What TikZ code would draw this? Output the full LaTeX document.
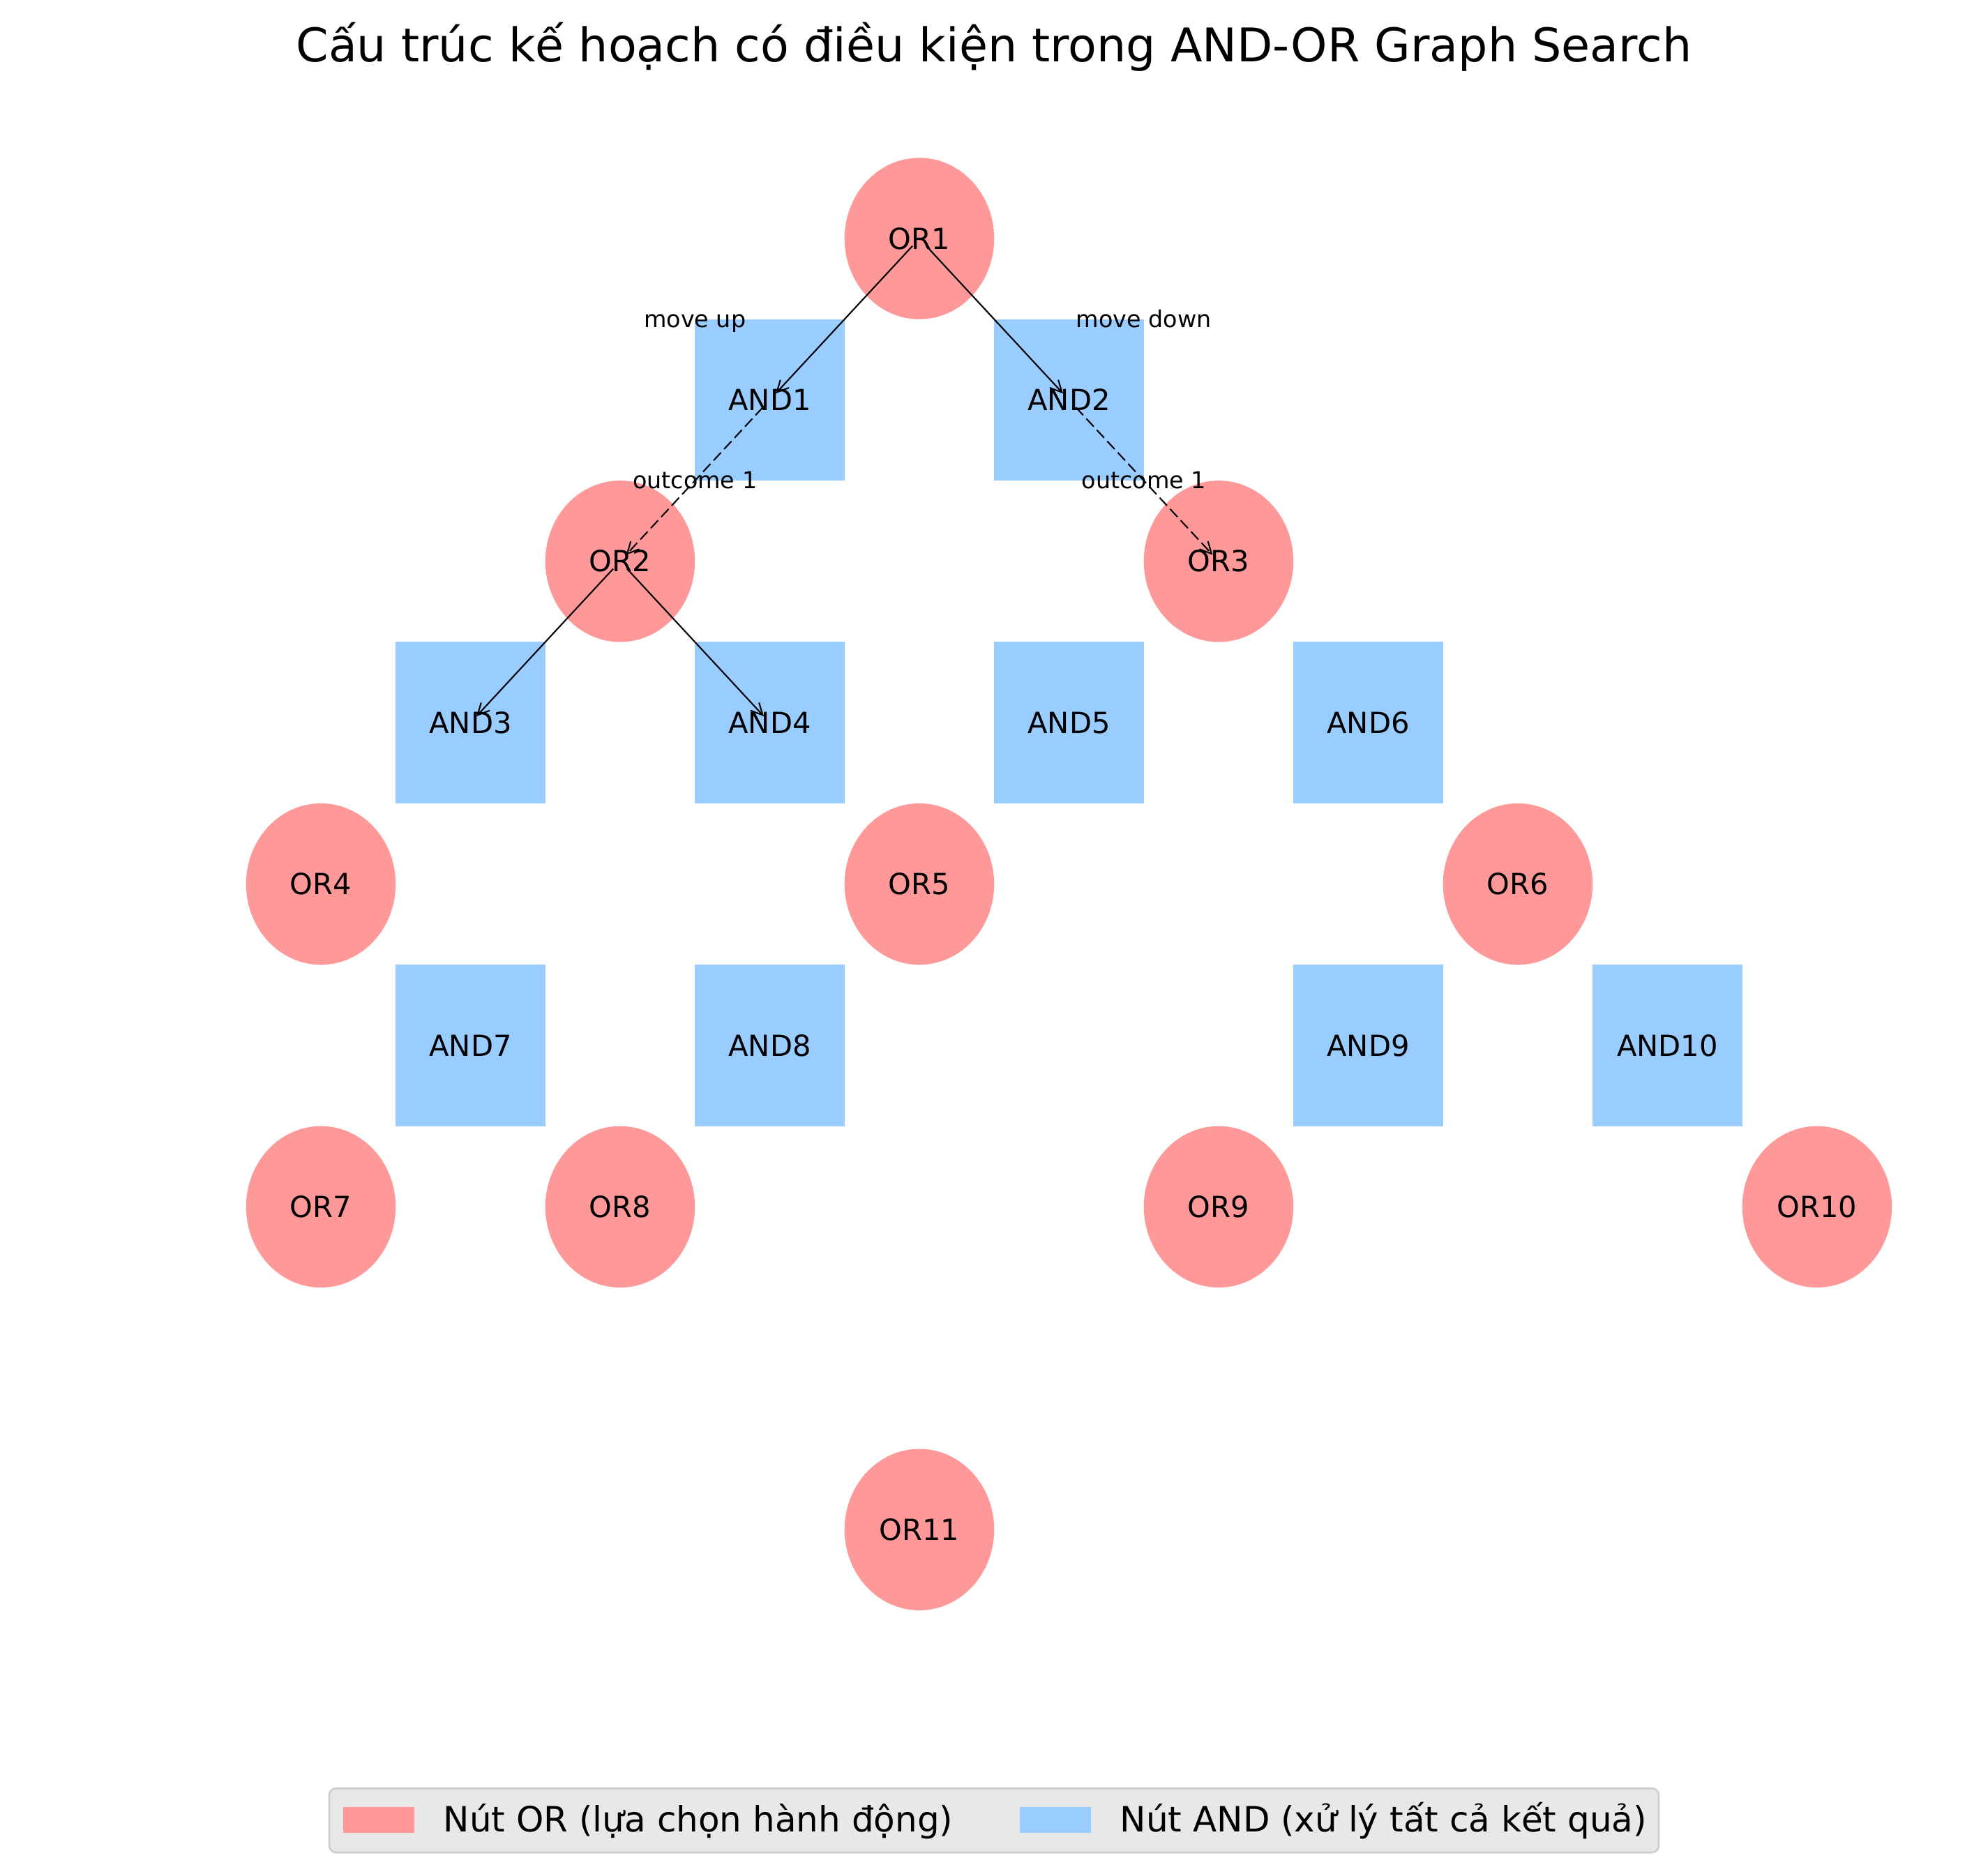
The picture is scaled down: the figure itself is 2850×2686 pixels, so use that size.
\documentclass[tikz,border=0pt]{standalone}
\usepackage{fontspec}
\setmainfont{DejaVu Sans}
\usetikzlibrary{shapes.geometric,arrows.meta}
\definecolor{ornode}{HTML}{FF9999}
\definecolor{andnode}{HTML}{99CCFF}
\definecolor{legbg}{HTML}{E8E8E8}
\definecolor{legedge}{HTML}{CFCFCF}

\begin{document}
\begin{tikzpicture}[x=0.24pt,y=-0.24pt,
  ornd/.style={ellipse, fill=ornode, minimum width=51.48pt, minimum height=55.54pt,
    inner sep=0pt, font=\fontsize{10}{12}\selectfont},
  andnd/.style={rectangle, fill=andnode, minimum width=51.48pt, minimum height=55.54pt,
    inner sep=0pt, font=\fontsize{10}{12}\selectfont},
  act/.style={-{Straight Barb[length=4pt,width=4pt]}, line width=0.5pt,
    shorten <=3.5pt, shorten >=3pt},
  outc/.style={act, dash pattern=on 3.7pt off 1.6pt},
  elabel/.style={font=\fontsize{8}{10}\selectfont, anchor=base, inner sep=0pt},
  legtext/.style={font=\fontsize{12}{14}\selectfont, anchor=base west, inner sep=0pt},
  legpatch/.style={minimum width=24.48pt, minimum height=8.88pt, inner sep=0pt, anchor=north west}]

\useasboundingbox (0,0) rectangle (2850,2686);

% title
\node[font=\fontsize{16}{19}\selectfont, anchor=base, inner sep=0pt] (title) at (1425,88)
  {Cấu trúc kế hoạch có điều kiện trong AND-OR Graph Search};

% tree on a grid: one column step = 214.5px, one row step = 231.4px
\begin{scope}[shift={(110.4pt,-82.08pt)}, x=51.48pt, y=-55.536pt]
  \node[ornd] (or1) at (4,0) {OR1};
  \node[andnd] (and1) at (3,1) {AND1};
  \node[andnd] (and2) at (5,1) {AND2};
  \node[ornd] (or2) at (2,2) {OR2};
  \node[ornd] (or3) at (6,2) {OR3};
  \node[andnd] (and3) at (1,3) {AND3};
  \node[andnd] (and4) at (3,3) {AND4};
  \node[andnd] (and5) at (5,3) {AND5};
  \node[andnd] (and6) at (7,3) {AND6};
  \node[ornd] (or4) at (0,4) {OR4};
  \node[ornd] (or5) at (4,4) {OR5};
  \node[ornd] (or6) at (8,4) {OR6};
  \node[andnd] (and7) at (1,5) {AND7};
  \node[andnd] (and8) at (3,5) {AND8};
  \node[andnd] (and9) at (7,5) {AND9};
  \node[andnd] (and10) at (9,5) {AND10};
  \node[ornd] (or7) at (0,6) {OR7};
  \node[ornd] (or8) at (2,6) {OR8};
  \node[ornd] (or9) at (6,6) {OR9};
  \node[ornd] (or10) at (10,6) {OR10};
  \node[ornd] (or11) at (4,8) {OR11};

  % actions (solid) and outcomes (dashed)
  \draw[act] (or1.center) -- (and1.center);
  \draw[act] (or1.center) -- (and2.center);
  \draw[outc] (and1.center) -- (or2.center);
  \draw[outc] (and2.center) -- (or3.center);
  \draw[act] (or2.center) -- (and3.center);
  \draw[act] (or2.center) -- (and4.center);

  % edge labels
  \node[elabel] (lup) at (2.5,0.55) {move up};
  \node[elabel] (ldown) at (5.5,0.55) {move down};
  \node[elabel] (lout1) at (2.5,1.55) {outcome 1};
  \node[elabel] (lout2) at (5.5,1.55) {outcome 1};
\end{scope}

% legend
\draw[fill=legbg, draw=legedge, line width=0.7pt, rounded corners=2.4pt]
  (472,2564) rectangle (2378,2656);
\node[legpatch, fill=ornode] (pator) at (491,2590) {};
\node[legtext] (legor) at (635,2626) {Nút OR (lựa chọn hành động)};
\node[legpatch, fill=andnode] (patand) at (1461,2590) {};
\node[legtext] (legand) at (1605,2626) {Nút AND (xử lý tất cả kết quả)};

\end{tikzpicture}
\end{document}
